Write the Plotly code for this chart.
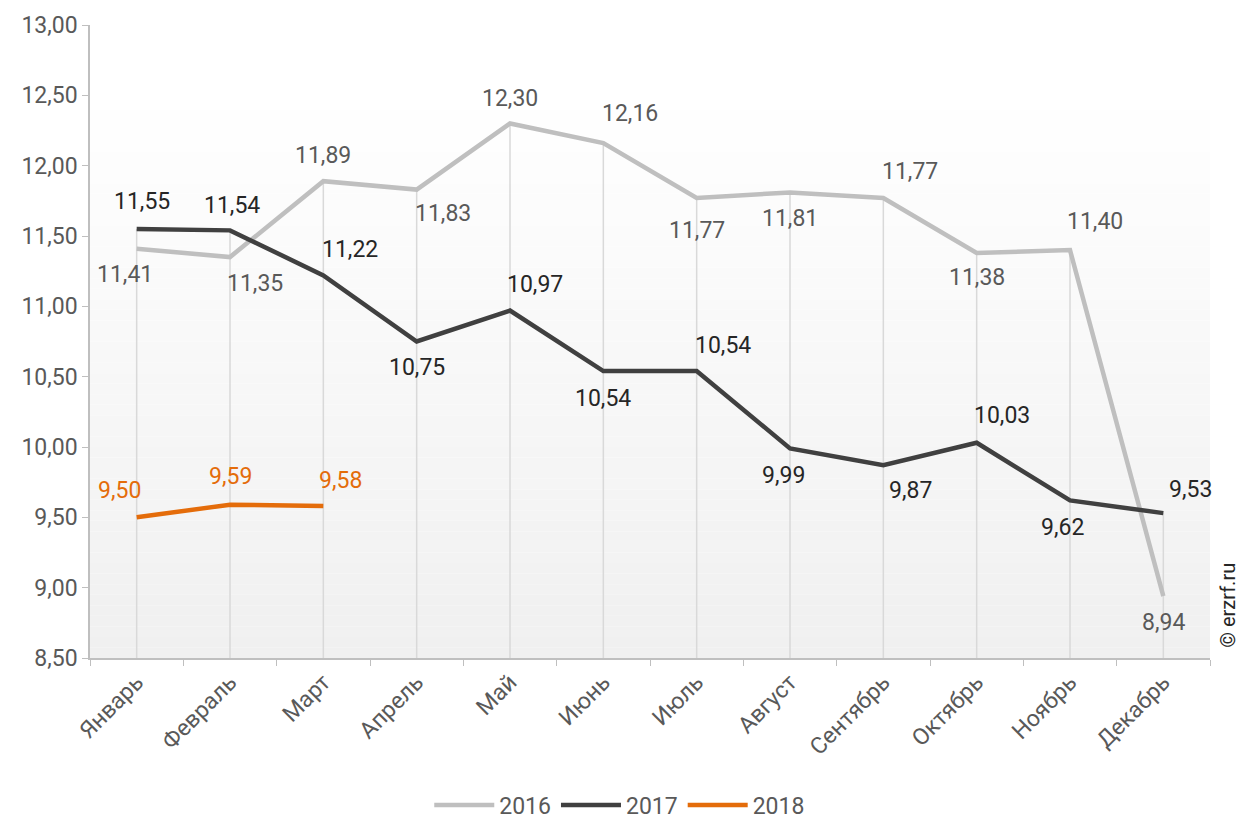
import plotly.graph_objects as go

months = ["Январь", "Февраль", "Март", "Апрель", "Май", "Июнь", "Июль",
          "Август", "Сентябрь", "Октябрь", "Ноябрь", "Декабрь"]
v2016 = [11.41, 11.35, 11.89, 11.83, 12.30, 12.16, 11.77, 11.81, 11.77, 11.38, 11.40, 8.94]
v2017 = [11.55, 11.54, 11.22, 10.75, 10.97, 10.54, 10.54, 9.99, 9.87, 10.03, 9.62, 9.53]
v2018 = [9.50, 9.59, 9.58]
y_ticks = [8.5, 9.0, 9.5, 10.0, 10.5, 11.0, 11.5, 12.0, 12.5, 13.0]

# label offsets (px) per point: (dx, dy) with dy positive = downward
off2016 = [(-12, 26), (25, 26), (0, -26), (26, 24), (0, -25), (27, -30),
           (0, 32), (0, 26), (27, -27), (0, 25), (25, -29), (0, 26)]
off2017 = [(5, -27), (2, -25), (27, -26), (0, 26), (25, -26), (0, 27),
           (26, -26), (-7, 27), (27, 25), (25, -27), (-8, 27), (27, -24)]
off2018 = [(-17, -27), (0, -28), (17, -26)]

C16, C17, C18 = "#bfbfbf", "#404040", "#e46c0a"
FONT = "Roboto"
FS = 23
ymin, ymax = y_ticks[0], y_ticks[-1]

fig = go.Figure()

# drop lines
dx, dy = [], []
for i, m in enumerate(months):
    vals = [v2016[i], v2017[i]] + ([v2018[i]] if i < len(v2018) else [])
    dx += [m, m, None]
    dy += [ymin, max(vals), None]
fig.add_trace(go.Scatter(x=dx, y=dy, mode="lines", line=dict(color="#d9d9d9", width=1.5),
                         showlegend=False, hoverinfo="skip"))

for name, vals, col in [("2016", v2016, C16), ("2017", v2017, C17), ("2018", v2018, C18)]:
    fig.add_trace(go.Scatter(x=months[:len(vals)], y=vals, mode="lines", name=name,
                             line=dict(color=col, width=4.5)))

label_sets = [(v2016, off2016, "#595959"), (v2017, off2017, "#262626"), (v2018, off2018, C18)]
for vals, offs, col in label_sets:
    for i, v in enumerate(vals):
        fig.add_annotation(x=months[i], y=v, text=f"{v:.2f}".replace(".", ","),
                           showarrow=False, xshift=offs[i][0], yshift=-offs[i][1],
                           font=dict(family=FONT, size=FS, color=col))

# background gradient bands
N = 60
for k in range(N):
    t = k / N
    c = int(round(240 + 15 * min(1.0, t / 0.88)))
    fig.add_shape(type="rect", xref="paper", yref="paper", x0=0, x1=1,
                  y0=t, y1=(k + 1) / N, fillcolor=f"rgb({c},{c},{c})",
                  line=dict(width=0), layer="below")

fig.add_annotation(text="© erzrf.ru", xref="paper", yref="paper", x=1.016, y=0.084,
                   textangle=-90, showarrow=False, xanchor="center", yanchor="middle",
                   font=dict(family=FONT, size=20, color="#262626"))

fig.update_layout(
    width=1248, height=822,
    margin=dict(l=82, r=46, t=17, b=172, autoexpand=False),
    paper_bgcolor="white", plot_bgcolor="white",
    separators=", ",
    font=dict(family=FONT, size=FS, color="#595959"),
    legend=dict(orientation="h", x=0.473, xanchor="center",
                yref="container", y=0.0304, yanchor="middle",
                font=dict(family=FONT, size=FS, color="#595959"), itemwidth=60),
    xaxis=dict(type="category", range=[-0.5, 11.5], showline=True, linecolor="#bfbfbf",
               linewidth=1.5, ticks="outside", tickson="boundaries", ticklen=6,
               tickcolor="#bfbfbf", tickangle=-45, showgrid=False, automargin=False,
               tickfont=dict(family=FONT, size=FS, color="#595959")),
    yaxis=dict(range=[ymin, ymax], tickvals=y_ticks, tickformat=".2f", showline=True,
               linecolor="#bfbfbf", linewidth=1.5, ticks="outside", ticklen=6,
               tickcolor="#bfbfbf", showgrid=False, zeroline=False, automargin=False,
               tickfont=dict(family=FONT, size=FS, color="#595959")),
)

fig.write_html("out.html")
